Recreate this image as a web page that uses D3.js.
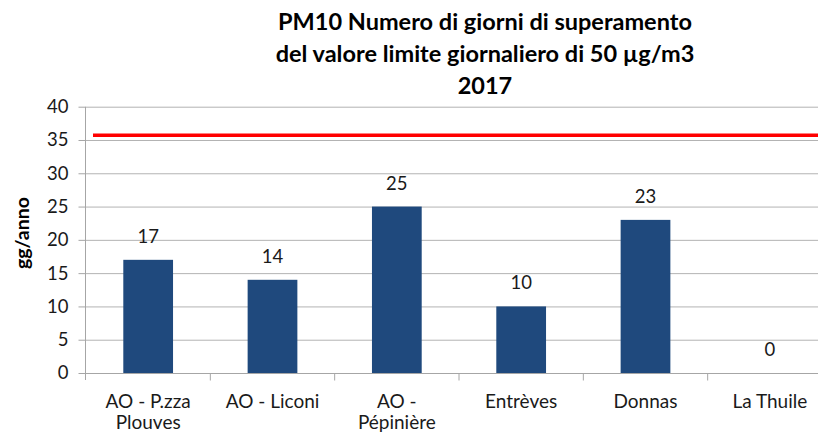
<!DOCTYPE html>
<html><head><meta charset="utf-8">
<script src="https://cdn.jsdelivr.net/npm/d3@7"></script>
<style>html,body{margin:0;padding:0;background:#fff;overflow:hidden}</style>
</head><body>
<svg id="c" width="818" height="433"></svg>
<script>
const categories = [["AO - P.zza","Plouves"],["AO - Liconi"],["AO -","Pépinière"],["Entrèves"],["Donnas"],["La Thuile"]];
const values = [17,14,25,10,23,0];
const yTicks = [0,5,10,15,20,25,30,35,40];
const limitValue = 35.7;
const titleLines = ["PM10 Numero di giorni di superamento","del valore limite giornaliero di 50 µg/m3","2017"];
const yTitle = "gg/anno";

(function(){
const svg = d3.select("#c");
const font = "Lato, 'Open Sans', sans-serif";
const pLeft = 86, pRight = 832, pTop = 106.7, pBottom = 373;
const x = d3.scaleBand().domain(d3.range(categories.length)).range([pLeft, pRight]).paddingInner(0.6).paddingOuter(0.3);
const xb = d3.scaleBand().domain(d3.range(categories.length)).range([pLeft, pRight]);
const y = d3.scaleLinear().domain([0,40]).range([pBottom, pTop]);

svg.append("g").selectAll("line").data(yTicks.filter(d=>d>0)).join("line")
  .attr("x1", pLeft).attr("x2", 818).attr("y1", d=>y(d)+0.5).attr("y2", d=>y(d)+0.5)
  .attr("stroke", "#b3b3b3").attr("stroke-width", 1);

const ya = svg.append("g").attr("transform", `translate(${pLeft-0.5},0)`)
  .call(d3.axisLeft(y).tickValues(yTicks).tickSize(7).tickPadding(10));
ya.select(".domain").attr("stroke", "#a6a6a6").attr("d", `M0,${y(40)}V${y(0)+7}`);
ya.selectAll(".tick line").attr("stroke", "#a6a6a6");
ya.selectAll(".tick text").attr("font-family", font).attr("font-size", 18.5).attr("fill", "#1a1a1a");

svg.append("g").selectAll("rect").data(values).join("rect")
  .attr("x", (d,i)=>x(i)).attr("width", x.bandwidth())
  .attr("y", d=>y(d)).attr("height", d=>y(0)-y(d))
  .attr("fill", "#1f497d");

const xa = svg.append("g").attr("transform", `translate(0,${pBottom+0.5})`);
xa.append("line").attr("x1", pLeft-7).attr("x2", 818).attr("stroke", "#a6a6a6");
xa.selectAll("line.t").data(d3.range(categories.length)).join("line").attr("class","t")
  .attr("x1", i=>xb(i)+xb.bandwidth()).attr("x2", i=>xb(i)+xb.bandwidth()).attr("y1",0).attr("y2",7)
  .attr("stroke", "#a6a6a6");
xa.selectAll("text").data(categories).join("text")
  .attr("font-family", font).attr("font-size", 19).attr("fill", "#1a1a1a").attr("text-anchor","middle")
  .each(function(d,i){
    const t = d3.select(this);
    d.forEach((ln,j)=>t.append("tspan").attr("x", xb(i)+xb.bandwidth()/2).attr("y", 34 + j*21).text(ln));
  });

svg.append("g").selectAll("text").data(values).join("text")
  .attr("x", (d,i)=>x(i)+x.bandwidth()/2).attr("y", d=>y(d)-17)
  .attr("text-anchor","middle").attr("font-family", font).attr("font-size", 18.5).attr("fill","#1a1a1a")
  .text(d=>d);

svg.append("line").attr("x1", 93).attr("x2", 818).attr("y1", y(limitValue)).attr("y2", y(limitValue))
  .attr("stroke", "#ff0000").attr("stroke-width", 3.5);

svg.append("text").attr("transform", `translate(29,233) rotate(-90)`).attr("text-anchor","middle")
  .attr("font-family", font).attr("font-weight","bold").attr("font-size", 19.5).attr("fill","#000").text(yTitle);

svg.append("g").selectAll("text").data(titleLines).join("text")
  .attr("x", 485).attr("y", (d,i)=>30 + i*32).attr("text-anchor","middle")
  .attr("font-family", font).attr("font-weight","bold").attr("font-size", 23.5).attr("fill","#000").text(d=>d);
})();
</script>
</body></html>
